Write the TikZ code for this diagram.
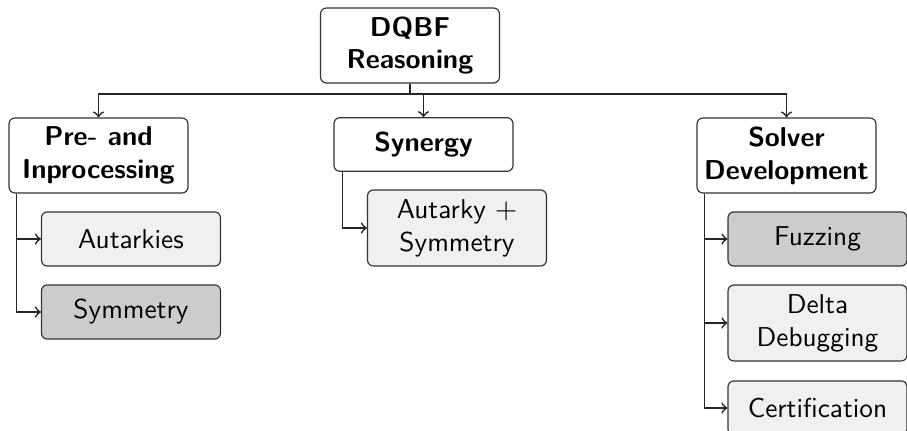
\documentclass[tikz,border=0pt]{standalone}
\usetikzlibrary{calc}
\begin{document}
\begin{tikzpicture}[x=0.3846pt,y=-0.3846pt,
  box/.style={draw=black!80,rounded corners=2.2pt,line width=0.45pt,minimum width=68.8pt,align=center,font=\fontsize{10.5}{12.6}\selectfont\sffamily,inner sep=2pt},
  headbox/.style={box,fill=white,font=\fontsize{10.5}{12.6}\selectfont\sffamily\bfseries},
  lightbox/.style={box,fill=black!6},
  darkbox/.style={box,fill=black!20},
  conn/.style={->,line width=0.65pt,black!85}]
\useasboundingbox (0,0) rectangle (907,431);
\node[headbox,minimum height=28.8pt] (root) at (410,45.5) {DQBF\\Reasoning};
\node[headbox,minimum height=28.8pt] (pre) at (98.5,155.5) {Pre- and\\Inprocessing};
\node[headbox,minimum height=20.6pt] (syn) at (423.5,144.5) {Synergy};
\node[headbox,minimum height=28.8pt] (sol) at (786.5,155.5) {Solver\\Development};
\node[lightbox,minimum height=20.8pt] (aut) at (131,239) {Autarkies};
\node[darkbox,minimum height=20.8pt] (sym) at (131,312) {Symmetry};
\node[lightbox,minimum height=29.2pt] (autsym) at (457,228) {Autarky $+$\\Symmetry};
\node[darkbox,minimum height=20.8pt] (fuz) at (817.5,239) {Fuzzing};
\node[lightbox,minimum height=29.2pt] (del) at (817.5,323) {Delta\\Debugging};
\node[lightbox,minimum height=20.8pt] (cert) at (817.5,408) {Certification};
\coordinate (bus) at (0,94);
\draw[conn] (root.south) -- (root.south |- bus) -| (pre.north);
\draw[conn] (root.south) -- (root.south |- bus) -| (syn.north);
\draw[conn] (root.south) -- (root.south |- bus) -| (sol.north);
\coordinate (pl) at ($(pre.south west)+(8,0)$);
\draw[conn] (pl) |- (aut.west);
\draw[conn] (pl) |- (sym.west);
\coordinate (sl) at ($(syn.south west)+(9,0)$);
\draw[conn] (sl) |- (autsym.west);
\coordinate (dl) at ($(sol.south west)+(8,0)$);
\draw[conn] (dl) |- (fuz.west);
\draw[conn] (dl) |- (del.west);
\draw[conn] (dl) |- (cert.west);
\end{tikzpicture}
\end{document}
